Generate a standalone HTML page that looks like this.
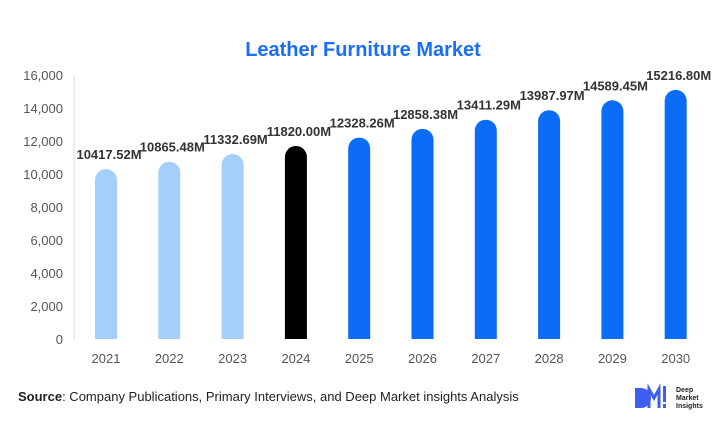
<!DOCTYPE html>
<html><head><meta charset="utf-8"><style>
body{margin:0;background:#fff;width:726px;height:443px;overflow:hidden;font-family:"Liberation Sans",sans-serif}
</style></head><body>
<svg width="726" height="443">
<text x="363" y="56" text-anchor="middle" font-size="20" font-weight="bold" fill="#1a6ef5">Leather Furniture Market</text>
<line x1="74" y1="75" x2="74" y2="340" stroke="#ddd"/>
<g id="yticks"></g>
<g id="bars"></g>
<text x="18" y="401" font-size="13" fill="#222"><tspan font-weight="bold">Source</tspan>: Company Publications, Primary Interviews, and Deep Market insights Analysis</text>
<g>
<path d="M635 388 h6 a10 10 0 0 1 0 20 h-6 z" fill="#3f5ef0"/>
<path d="M649 408 v-19 l5 9 l5 -9 v19" fill="none" stroke="#3f5ef0" stroke-width="3"/>
<rect x="663" y="386" width="3" height="16" fill="#3f5ef0"/>
<rect x="663" y="404" width="3" height="4" fill="#3f5ef0"/>
<text x="676" y="392" font-size="7" font-weight="bold" fill="#222">Deep</text>
<text x="676" y="400" font-size="7" font-weight="bold" fill="#222">Market</text>
<text x="676" y="408" font-size="7" font-weight="bold" fill="#222">Insights</text>
</g>
</svg>
<script>
const years=["2021","2022","2023","2024","2025","2026","2027","2028","2029","2030"];
const values=[10417.52,10865.48,11332.69,11820.00,12328.26,12858.38,13411.29,13987.97,14589.45,15216.80];
const valueLabels=["10417.52M","10865.48M","11332.69M","11820.00M","12328.26M","12858.38M","13411.29M","13987.97M","14589.45M","15216.80M"];
const yTicks=[0,2000,4000,6000,8000,10000,12000,14000,16000];
const NS="http://www.w3.org/2000/svg";
const y=v=>339-v*(264/16000);
const x=i=>106+i*63.3;
const yt=document.getElementById('yticks');
yTicks.forEach(t=>{const e=document.createElementNS(NS,'text');


e.setAttribute('x',63);e.setAttribute('y',y(t)+5);e.setAttribute('text-anchor','end');
e.setAttribute('font-size','13');e.setAttribute('fill','#555');e.textContent=t.toLocaleString('en-US');yt.appendChild(e);});
const bg=document.getElementById('bars');
values.forEach((v,i)=>{
const col=i<3?'#a5cffb':(i==3?'#000':'#0b6cf6');
const w=22,top=y(v)+2,bot=339;
const p=document.createElementNS(NS,'path');


p.setAttribute('d',`M${x(i)-w/2} ${bot} V${top+w/2} A${w/2} ${w/2} 0 0 1 ${x(i)+w/2} ${top+w/2} V${bot} Z`);
p.setAttribute('fill',col);bg.appendChild(p);
const l=document.createElementNS(NS,'text');


l.setAttribute('x',x(i)+3);l.setAttribute('y',top-10);l.setAttribute('text-anchor','middle');
l.setAttribute('font-size','13');l.setAttribute('font-weight','bold');l.setAttribute('fill','#333');
l.textContent=valueLabels[i];bg.appendChild(l);
const xl=document.createElementNS(NS,'text');


xl.setAttribute('x',x(i));xl.setAttribute('y',363);xl.setAttribute('text-anchor','middle');
xl.setAttribute('font-size','13');xl.setAttribute('fill','#555');xl.textContent=years[i];bg.appendChild(xl);
});
</script>
</body></html>
